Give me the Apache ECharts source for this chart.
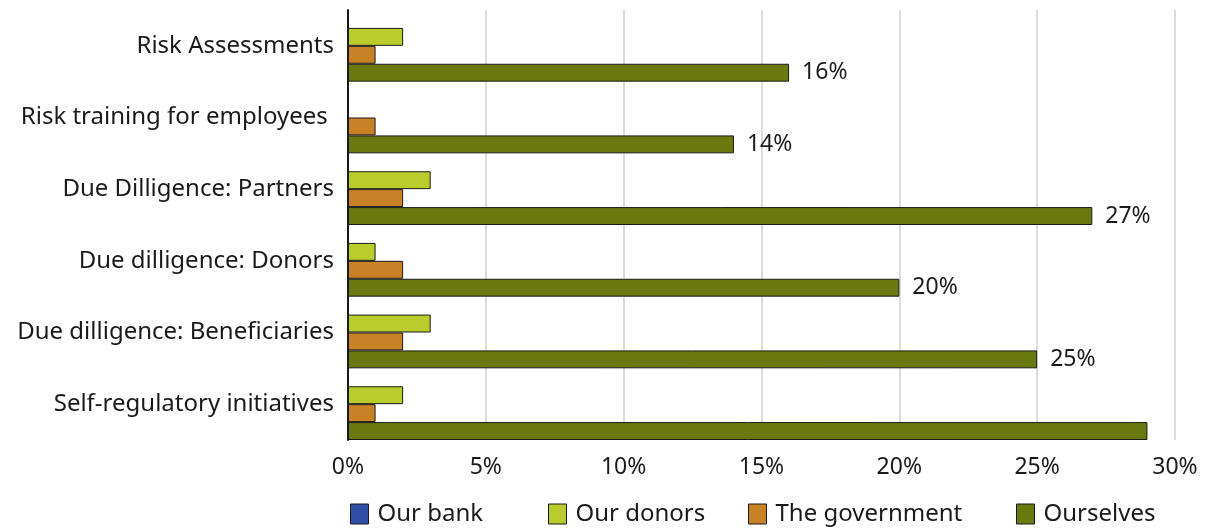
<!DOCTYPE html>
<html>
<head>
<meta charset="utf-8">
<script src="https://cdn.jsdelivr.net/npm/echarts@6/dist/echarts.min.js"></script>
<style>
  html, body { margin: 0; padding: 0; background: #fff; }
  #chart { width: 1210px; height: 529px; }
</style>
</head>
<body>
<div id="chart"></div>
<script>
// Who carries out each risk-management activity (% of respondents)
const categories = [
  'Risk Assessments',
  'Risk training for employees ',
  'Due Dilligence: Partners',
  'Due dilligence: Donors',
  'Due dilligence: Beneficiaries',
  'Self-regulatory initiatives'
];
const seriesNames = ['Our bank', 'Our donors', 'The government', 'Ourselves'];
const ourBank = [0, 0, 0, 0, 0, 0];
const ourDonors = [2, 0, 3, 1, 3, 2];
const theGovernment = [1, 1, 2, 2, 2, 1];
const ourselves = [16, 14, 27, 20, 25, 29];
// value labels are printed for every row except the last one
const ourselvesLabelled = [true, true, true, true, true, false];
const xTicks = [0, 5, 10, 15, 20, 25, 30];

const colors = ['#2f4fa6', '#bacb2c', '#c98126', '#6a7810'];
const FONT = 'Noto Sans';
// left edge of each legend entry along the bottom row
const legendLefts = [350, 548, 748, 1016];

const chart = echarts.init(document.getElementById('chart'));

function barSeries(name, values, color, withLabels) {
  return {
    name: name,
    type: 'bar',
    barGap: '0%',
    barCategoryGap: '0%',
    itemStyle: { color: color, borderColor: '#1a1a1a', borderWidth: 1 },
    data: values.map((v, i) => withLabels ? {
      value: v,
      label: {
        show: withLabels[i],
        position: 'right',
        distance: 13,
        formatter: p => p.value + '%',
        fontFamily: FONT, fontSize: 23, color: '#1a1a1a'
      }
    } : v),
    animation: false
  };
}

chart.setOption({
  animation: false,
  textStyle: { fontFamily: FONT },
  grid: { left: 348, right: 35, top: 10, bottom: 89, containLabel: false },
  xAxis: {
    type: 'value',
    min: xTicks[0],
    max: xTicks[xTicks.length - 1],
    interval: 5,
    axisLine: { show: false },
    axisTick: { show: false },
    splitLine: { show: true, lineStyle: { color: '#dcdcdc', width: 2 } },
    axisLabel: {
      formatter: v => v + '%',
      fontFamily: FONT, fontSize: 23, color: '#1a1a1a', margin: 16
    }
  },
  yAxis: {
    type: 'category',
    inverse: true,
    data: categories,
    axisLine: { show: true, lineStyle: { color: '#1a1a1a', width: 2 } },
    axisTick: { show: false },
    axisLabel: { fontFamily: FONT, fontSize: 24, color: '#1a1a1a', margin: 14 }
  },
  legend: seriesNames.map((name, i) => ({
    left: legendLefts[i],
    top: 502,
    padding: 0,
    itemWidth: 18,
    itemHeight: 20,
    icon: 'rect',
    itemStyle: { borderColor: '#1a1a1a', borderWidth: 1 },
    textStyle: { fontFamily: FONT, fontSize: 24, color: '#1a1a1a', padding: [0, 0, 0, 4] },
    data: [name]
  })),
  series: [
    barSeries(seriesNames[0], ourBank, colors[0]),
    barSeries(seriesNames[1], ourDonors, colors[1]),
    barSeries(seriesNames[2], theGovernment, colors[2]),
    barSeries(seriesNames[3], ourselves, colors[3], ourselvesLabelled)
  ]
});
</script>
</body>
</html>
